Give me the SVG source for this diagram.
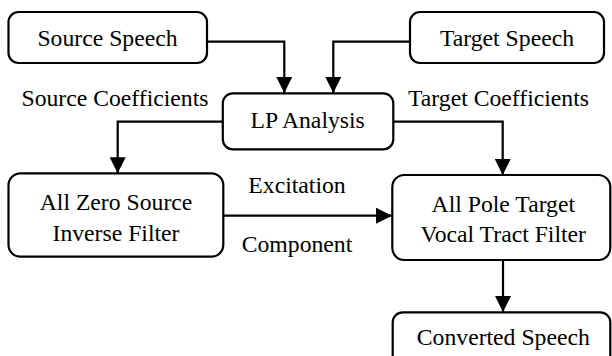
<svg xmlns="http://www.w3.org/2000/svg" width="612" height="356" viewBox="0 0 612 356">
<defs>
<style>
.box{fill:#fff;stroke:#000;stroke-width:2.2}
.t{font-family:'Liberation Serif','DejaVu Serif',serif;font-size:23.7px;fill:#000;text-anchor:middle}
.c{fill:none;stroke:#000;stroke-width:2.2}
</style>
<marker id="ah" markerWidth="16" markerHeight="16" viewBox="0 0 16 16" refX="16" refY="8" orient="auto" markerUnits="userSpaceOnUse">
<path d="M0,0 L16,8 L0,16 Z" fill="#000"/>
</marker>
</defs>
<rect width="612" height="356" fill="#fff"/>
<g id="connectors">
<path class="c" d="M207,41.7 H284.3 V93" marker-end="url(#ah)"/>
<path class="c" d="M410,41.7 H333.3 V93" marker-end="url(#ah)"/>
<path class="c" d="M223,121.7 H117.7 V173.3" marker-end="url(#ah)"/>
<path class="c" d="M393,121.7 H502.7 V175" marker-end="url(#ah)"/>
<path class="c" d="M223,215.7 H392" marker-end="url(#ah)"/>
<path class="c" d="M503,260 V312" marker-end="url(#ah)"/>
</g>
<g id="source-speech">
<rect class="box" x="8.5" y="12" width="198.5" height="51" rx="10"/>
<text class="t" font-family="Liberation Serif" x="107.5" y="45.7">Source Speech</text>
</g>
<g id="target-speech">
<rect class="box" x="410" y="12" width="194" height="51" rx="10"/>
<text class="t" font-family="Liberation Serif" x="507" y="45.7">Target Speech</text>
</g>
<g id="lp-analysis">
<rect class="box" x="222.8" y="93.3" width="170.5" height="56" rx="10"/>
<text class="t" font-family="Liberation Serif" x="307.7" y="128.3">LP Analysis</text>
</g>
<g id="all-zero">
<rect class="box" x="8.5" y="173.3" width="214.8" height="83.4" rx="12"/>
<text class="t" font-family="Liberation Serif" x="116" y="210">All Zero Source</text>
<text class="t" font-family="Liberation Serif" x="116" y="241">Inverse Filter</text>
</g>
<g id="all-pole">
<rect class="box" x="392.3" y="175" width="218" height="85" rx="12"/>
<text class="t" font-family="Liberation Serif" x="503.3" y="211.7">All Pole Target</text>
<text class="t" font-family="Liberation Serif" x="503.3" y="241.7">Vocal Tract Filter</text>
</g>
<g id="converted-speech">
<rect class="box" x="392.7" y="312.3" width="217.6" height="60" rx="10"/>
<text class="t" font-family="Liberation Serif" x="503.3" y="345">Converted Speech</text>
</g>
<g id="labels">
<text class="t" font-family="Liberation Serif" x="115" y="106">Source Coefficients</text>
<text class="t" font-family="Liberation Serif" x="498.5" y="106">Target Coefficients</text>
<text class="t" font-family="Liberation Serif" x="297" y="193.3">Excitation</text>
<text class="t" font-family="Liberation Serif" x="297" y="251.7">Component</text>
</g>
</svg>
